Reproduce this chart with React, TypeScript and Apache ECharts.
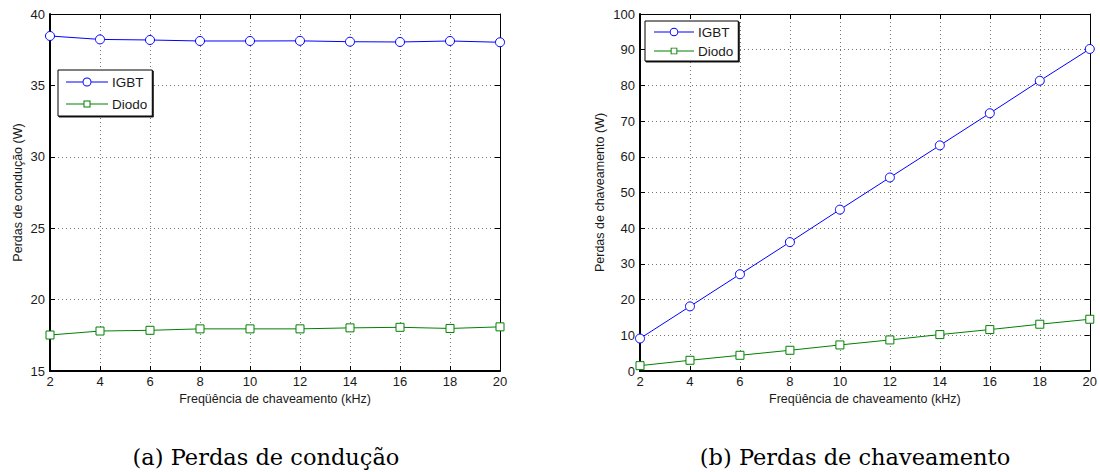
import React, { useEffect, useRef } from "react";
import * as echarts from "echarts";

const freqs = [2, 4, 6, 8, 10, 12, 14, 16, 18, 20];
const condIGBT = [38.46, 38.22, 38.18, 38.11, 38.11, 38.12, 38.06, 38.04, 38.11, 38.02];
const condDiodo = [17.52, 17.8, 17.85, 17.95, 17.95, 17.95, 18.02, 18.06, 17.98, 18.09];
const swIGBT = [9.1, 18.1, 27.1, 36.1, 45.2, 54.2, 63.2, 72.2, 81.3, 90.2];
const swDiodo = [1.5, 3.0, 4.4, 5.8, 7.3, 8.7, 10.2, 11.6, 13.1, 14.5];
const seriesNames = ["IGBT", "Diodo"];
const xAxisTitle = "Freqüência de chaveamento (kHz)";
const yTitleA = "Perdas de condução (W)";
const yTitleB = "Perdas de chaveamento (W)";
const captionA = "(a) Perdas de condução";
const captionB = "(b) Perdas de chaveamento";

const SANS = "'Liberation Sans', Arial, Helvetica, sans-serif";
const SERIF = "'DejaVu Serif', 'Liberation Serif', serif";
const BLUE = "#0000ff";
const GREEN = "#008000";
const TXT = "#1a1a1a";

// legend icons: line + hollow marker (filled path with holes)
const ICON_CIRCLE =
  "path://M0 4.5H16.5V5.5H0Z" +
  "M25.5 5A4.5 4.5 0 1 0 16.5 5A4.5 4.5 0 1 0 25.5 5Z" +
  "M24.5 5A3.5 3.5 0 1 1 17.5 5A3.5 3.5 0 1 1 24.5 5Z" +
  "M25.5 4.5H42V5.5H25.5Z";
const ICON_SQUARE =
  "path://M0 4.5H17.5V5.5H0Z" +
  "M17.5 1.5H24.5V8.5H17.5Z" +
  "M18.5 2.5V7.5H23.5V2.5Z" +
  "M24.5 4.5H42V5.5H24.5Z" +
  "M0 0.5H0.01V9.5H0Z";

function pairs(xs: number[], ys: number[]) {
  return xs.map((x, i) => [x, ys[i]]);
}

export default function App() {
  const ref = useRef<HTMLDivElement>(null);
  useEffect(() => {
    if (!ref.current) return;
    const chart = echarts.init(ref.current, undefined, { renderer: "svg" });

    const split = { show: true, lineStyle: { color: "#777", type: [1, 3] as any, width: 1 } };
    const tick = { show: true, inside: true, length: 5, lineStyle: { color: "#000", width: 1 } };
    const mkX = (gi: number, name: string) => [
      {
        type: "value", gridIndex: gi, min: 2, max: 20, interval: 2, position: "bottom",
        axisLine: { show: true, onZero: false, lineStyle: { color: "#000", width: 2 } },
        axisTick: tick,
        axisLabel: { color: TXT, fontFamily: SANS, fontSize: 13, margin: 4 },
        splitLine: split,
        name, nameLocation: "middle", nameGap: 21,
        nameTextStyle: { color: TXT, fontFamily: SANS, fontSize: 12.5 },
      },
      {
        type: "value", gridIndex: gi, min: 2, max: 20, interval: 2, position: "top",
        axisLine: { show: true, onZero: false, lineStyle: { color: "#000", width: 1 } },
        axisTick: tick, axisLabel: { show: false }, splitLine: { show: false },
      },
    ];
    const mkY = (gi: number, min: number, max: number, interval: number, name: string, gap: number) => [
      {
        type: "value", gridIndex: gi, min, max, interval, position: "left",
        axisLine: { show: true, onZero: false, lineStyle: { color: "#000", width: 2 } },
        axisTick: tick,
        axisLabel: { color: TXT, fontFamily: SANS, fontSize: 13, margin: 5 },
        splitLine: split,
        name, nameLocation: "middle", nameGap: gap,
        nameTextStyle: { color: TXT, fontFamily: SANS, fontSize: 12.5 },
      },
      {
        type: "value", gridIndex: gi, min, max, interval, position: "right",
        axisLine: { show: true, onZero: false, lineStyle: { color: "#000", width: 1 } },
        axisTick: tick, axisLabel: { show: false }, splitLine: { show: false },
      },
    ];

    const mkSeries = (name: string, data: number[][], xi: number, yi: number, color: string, symbol: string, size: number) => ({
      type: "line", name, data, xAxisIndex: xi, yAxisIndex: yi,
      symbol, symbolSize: size, showAllSymbol: true,
      lineStyle: { color, width: 1 },
      itemStyle: { color: "#fff", borderColor: color, borderWidth: 1 },
      emphasis: { disabled: true },
    });

    const legendBase = {
      orient: "vertical", backgroundColor: "#fff", borderColor: "#000", borderWidth: 1,
      shadowColor: "rgba(0,0,0,0.9)", shadowOffsetX: 1, shadowOffsetY: 1, shadowBlur: 0,
      itemHeight: 10, selectedMode: false,
      data: [
        { name: seriesNames[0], icon: ICON_CIRCLE, itemStyle: { color: BLUE, borderWidth: 0 } },
        { name: seriesNames[1], icon: ICON_SQUARE, itemStyle: { color: GREEN, borderWidth: 0 } },
      ],
      itemStyle: { borderWidth: 0 },
      textStyle: { color: TXT, fontFamily: SANS, fontSize: 13.5, padding: [0, 0, 0, -1] },
      borderRadius: 0,
    };

    chart.setOption({
      animation: false,
      backgroundColor: "#fff",
      grid: [
        { left: 50, top: 14, width: 450, height: 357, containLabel: false },
        { left: 640, top: 14, width: 451, height: 357, containLabel: false },
      ],
      xAxis: [...mkX(0, xAxisTitle), ...mkX(1, xAxisTitle)],
      yAxis: [...mkY(0, 15, 40, 5, yTitleA, 26), ...mkY(1, 0, 100, 10, yTitleB, 34)],
      legend: [
        { ...legendBase, left: 58, top: 70, itemWidth: 42, itemGap: 8, padding: [5, 5, 5, 8] },
        { ...legendBase, left: 645, top: 21, itemWidth: 40, itemGap: 5, padding: [4, 5, 3, 9] },
      ],
      series: [
        mkSeries(seriesNames[0], pairs(freqs, condIGBT), 0, 0, BLUE, "circle", 9),
        mkSeries(seriesNames[1], pairs(freqs, condDiodo), 0, 0, GREEN, "rect", 8),
        mkSeries(seriesNames[0], pairs(freqs, swIGBT), 2, 2, BLUE, "circle", 9),
        mkSeries(seriesNames[1], pairs(freqs, swDiodo), 2, 2, GREEN, "rect", 8),
      ],
      graphic: [
        {
          type: "text", x: 266, y: 457,
          style: { text: captionA, fontFamily: SERIF, fontSize: 22.5, fill: "#000", textAlign: "center", textVerticalAlign: "middle" },
        },
        {
          type: "text", x: 855, y: 457,
          style: { text: captionB, fontFamily: SERIF, fontSize: 22.5, fill: "#000", textAlign: "center", textVerticalAlign: "middle" },
        },
      ],
    });
    return () => chart.dispose();
  }, []);
  return (
    <div
      ref={ref}
      style={{ position: "fixed", left: 0, top: 0, width: 1100, height: 472 }}
    />
  );
}
